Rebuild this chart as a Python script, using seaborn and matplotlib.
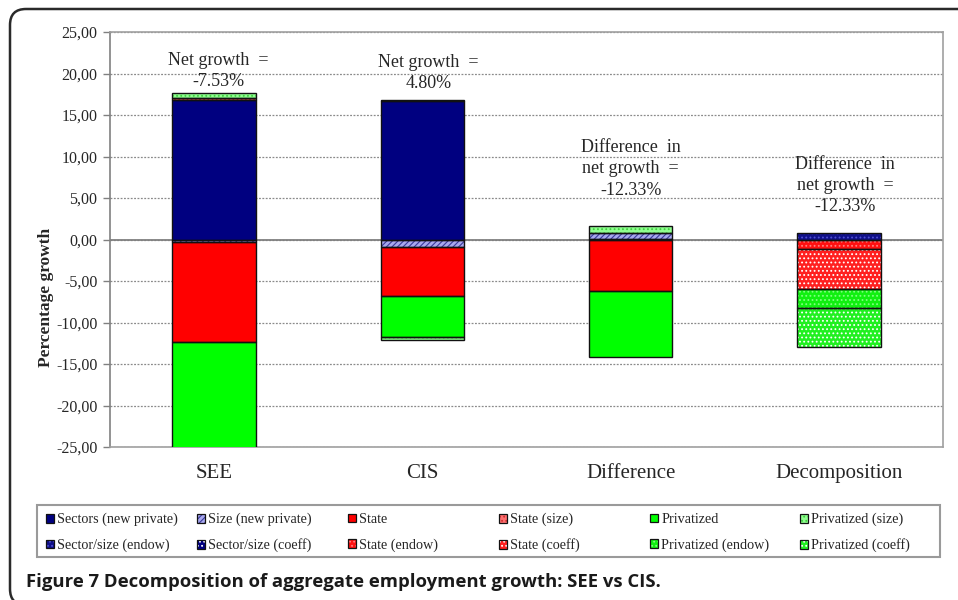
import numpy as np
import matplotlib
matplotlib.use("Agg")
import matplotlib.pyplot as plt
import seaborn as sns
from matplotlib.patches import Patch, Rectangle, FancyBboxPatch
from matplotlib.ticker import FuncFormatter

# ---------------- data ----------------
categories = ["SEE", "CIS", "Difference", "Decomposition"]

series_names = [
    "Sectors (new private)", "Size (new private)", "State", "State (size)",
    "Privatized", "Privatized (size)",
    "Sector/size (endow)", "Sector/size (coeff)", "State (endow)", "State (coeff)",
    "Privatized (endow)", "Privatized (coeff)",
]

sectors_new_private = [16.8, 16.7, 0.10, 0.0]
size_new_private = [-0.3, -0.95, 0.65, 0.0]
state = [-12.1, -5.9, -6.2, 0.0]
state_size = [0.25, 0.10, 0.0, 0.0]
privatized = [-12.7, -4.9, -7.9, 0.0]
privatized_size = [0.55, -0.35, 0.90, 0.0]
sector_size_endow = [0.0, 0.0, 0.0, 0.8]
sector_size_coeff = [0.0, 0.0, 0.0, 0.0]
state_endow = [0.0, 0.0, 0.0, -1.2]
state_coeff = [0.0, 0.0, 0.0, -4.8]
privatized_endow = [0.0, 0.0, 0.0, -2.2]
privatized_coeff = [0.0, 0.0, 0.0, -4.8]

series_values = [
    sectors_new_private, size_new_private, state, state_size,
    privatized, privatized_size,
    sector_size_endow, sector_size_coeff, state_endow, state_coeff,
    privatized_endow, privatized_coeff,
]

annotations = [
    "Net growth  =\n-7.53%",
    "Net growth  =\n4.80%",
    "Difference  in\nnet growth  =\n-12.33%",
    "Difference  in\nnet growth  =\n-12.33%",
]

y_ticks = [-25, -20, -15, -10, -5, 0, 5, 10, 15, 20, 25]

# ---------------- styles ----------------
# name -> (face colour, hatch, hatch colour)
styles = {
    "Sectors (new private)": ("#000080", None, "#000080"),
    "Size (new private)": ("#A8A8EE", "//////", "#3A3A9A"),
    "State": ("#FF0000", None, "#FF0000"),
    "State (size)": ("#FF7070", "....", "#D03030"),
    "Privatized": ("#00FF00", None, "#00FF00"),
    "Privatized (size)": ("#90FF90", "....", "#40D040"),
    "Sector/size (endow)": ("#10108A", "....", "#5050D0"),
    "Sector/size (coeff)": ("#000080", "....", "#FFFFFF"),
    "State (endow)": ("#FF1010", "....", "#FF8080"),
    "State (coeff)": ("#FF2020", "....", "#FFFFFF"),
    "Privatized (endow)": ("#10F010", "....", "#80FF80"),
    "Privatized (coeff)": ("#20F020", "....", "#FFFFFF"),
}

sns.set_theme(style="white")
plt.rcParams["font.family"] = ["Liberation Serif", "DejaVu Serif"]
plt.rcParams["hatch.linewidth"] = 0.8

W, H = 958, 600
fig = plt.figure(figsize=(W / 100, H / 100), dpi=100)
fig.patch.set_facecolor("white")

ax_left, ax_right, ax_top, ax_bot = 110, 943, 32, 447
ax = fig.add_axes([ax_left / W, 1 - ax_bot / H, (ax_right - ax_left) / W, (ax_bot - ax_top) / H])
ax.set_facecolor("white")

x = np.arange(len(categories))
bar_w = 0.40
pos_bottom = np.zeros(len(categories))
neg_bottom = np.zeros(len(categories))
for name, vals in zip(series_names, series_values):
    v = np.asarray(vals, dtype=float)
    bottoms = np.where(v >= 0, pos_bottom, neg_bottom)
    m = v != 0
    face, hatch, hc = styles[name]
    if m.any():
        ax.bar(x[m], v[m], bar_w, bottom=bottoms[m], color=face, hatch=hatch,
               edgecolor=hc, linewidth=0, zorder=3)
        ax.bar(x[m], v[m], bar_w, bottom=bottoms[m], facecolor="none",
               edgecolor="#111111", linewidth=1.0, zorder=4)
    pos_bottom += np.where(v > 0, v, 0)
    neg_bottom += np.where(v < 0, v, 0)

ax.set_xlim(-0.5, len(categories) - 0.5)
ax.set_ylim(-25, 25)
ax.set_yticks(y_ticks)
ax.yaxis.set_major_formatter(FuncFormatter(lambda v, p: f"{v:.2f}".replace(".", ",")))
ax.set_xticks(x)
ax.set_xticklabels(categories, fontsize=15)
ax.tick_params(axis="x", length=0, pad=12)
ax.tick_params(axis="y", direction="out", length=5, width=1, color="#808080",
               labelsize=11.5, pad=4, left=True)
ax.yaxis.grid(True, linestyle=(0, (1.5, 1.2)), color="#8a8a8a", linewidth=0.9, zorder=1)
ax.xaxis.grid(False)
ax.axhline(0, color="#808080", linewidth=1.3, zorder=2)
for s in ["top", "right", "bottom"]:
    ax.spines[s].set_color("#a0a0a0")
    ax.spines[s].set_linewidth(1.2)
ax.spines["left"].set_color("#808080")
ax.spines["left"].set_linewidth(1.2)

ann_y = [20.3, 20.1, 8.5, 6.5]
ann_dx = [0.02, 0.03, 0.0, 0.03]
for i, txt in enumerate(annotations):
    ax.text(x[i] + ann_dx[i], ann_y[i], txt, ha="center", va="center",
            fontsize=13, linespacing=1.32, zorder=5)

fig.text(46 / W, 1 - 297 / H, "Percentage growth", rotation=90, ha="center",
         va="center", fontsize=12.5, fontweight="bold")

# ---------------- legend ----------------
fig.patches.append(Rectangle((37 / W, 1 - 557 / H), (940 - 37) / W, (557 - 505) / H,
                             transform=fig.transFigure, facecolor="white",
                             edgecolor="#9a9a9a", linewidth=1.5, zorder=0))

def handle(name):
    face, hatch, hc = styles[name]
    return (Patch(facecolor=face, hatch=hatch, edgecolor=hc, linewidth=0),
            Patch(facecolor="none", edgecolor="#111111", linewidth=0.9))

col_x = [46, 197, 348, 499, 650, 800]
for c in range(6):
    names = [series_names[c], series_names[c + 6]]
    fig.legend([handle(n) for n in names], names, loc="upper left",
               bbox_to_anchor=(col_x[c] / W, 1 - 513 / H), frameon=False,
               fontsize=10.2, handlelength=0.55, handleheight=0.55,
               handletextpad=0.25, labelspacing=0.85, borderpad=0,
               borderaxespad=0)

# ---------------- caption and border ----------------
fig.text(26 / W, 1 - 582 / H,
         "Figure 7 Decomposition of aggregate employment growth: SEE vs CIS.",
         ha="left", va="center", fontsize=13.3, fontweight="bold",
         family=["Open Sans", "DejaVu Sans"], color="#1a1a1a")

fig.patches.append(FancyBboxPatch((0.10, -0.05), 9.9, 5.96,
                                  boxstyle="round,pad=0,rounding_size=0.16",
                                  transform=fig.dpi_scale_trans, facecolor="none",
                                  edgecolor="#2a2a2a", linewidth=1.8, zorder=10))

fig.savefig("out.png", dpi=100)
